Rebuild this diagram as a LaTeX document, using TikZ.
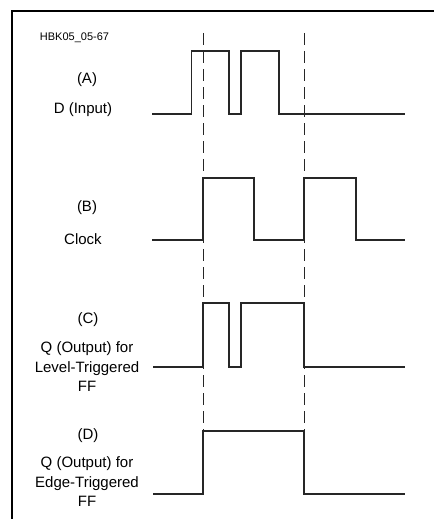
\documentclass[tikz,border=0pt]{standalone}
\usepackage{fontspec}
\setmainfont{Liberation Sans}
\tikzset{
  wave/.style={line width=1.5pt, color=black!85, line join=miter},
  guide/.style={line width=1pt, dash pattern=on 12pt off 6pt, color=black!85},
  lbl/.style={font=\fontsize{15}{19.5}\selectfont, align=center, inner sep=0pt}
}
\begin{document}
\begin{tikzpicture}[x=1pt,y=-1pt]
\useasboundingbox (0,0) rectangle (434,519);
% frame
\draw[line width=2pt] (11.5,519) -- (11.5,11) -- (434,11);
\node[font=\fontsize{11}{13}\selectfont, inner sep=0pt] (tag) at (74.5,38) {HBK05\_05-67};
% labels
\node[lbl] (labA) at (87,80) {(A)};
\node[lbl] (nameA) at (83,110) {D (Input)};
\node[lbl] (labB) at (87,208) {(B)};
\node[lbl] (nameB) at (83,239) {Clock};
\node[lbl] (labC) at (88,320) {(C)};
\node[lbl] (nameC) at (87,367) {Q (Output) for\\Level-Triggered\\FF};
\node[lbl] (labD) at (88,436) {(D)};
\node[lbl] (nameD) at (87,482) {Q (Output) for\\Edge-Triggered\\FF};
% clock edges
\coordinate (edge1top) at (203,33);
\coordinate (edge1bot) at (203,431);
\coordinate (edge2top) at (304,33);
\coordinate (edge2bot) at (304,431);
\draw[guide] (edge1top) -- (edge1bot);
\draw[guide] (edge2top) -- (edge2bot);
% waveforms
\draw[wave] (152,114) -- (191.5,114) -- (191.5,51) -- (229,51) -- (229,114) -- (241,114) -- (241,51) -- (279,51) -- (279,114) -- (405,114);
\draw[wave] (152,240) -- (203,240) -- (203,178) -- (254,178) -- (254,240) -- (304,240) -- (304,178) -- (356,178) -- (356,240) -- (405,240);
\draw[wave] (153,367) -- (203,367) -- (203,303) -- (229,303) -- (229,367) -- (241,367) -- (241,303) -- (304,303) -- (304,367) -- (405,367);
\draw[wave] (153,494) -- (203,494) -- (203,431) -- (304,431) -- (304,494) -- (405,494);
\end{tikzpicture}
\end{document}
